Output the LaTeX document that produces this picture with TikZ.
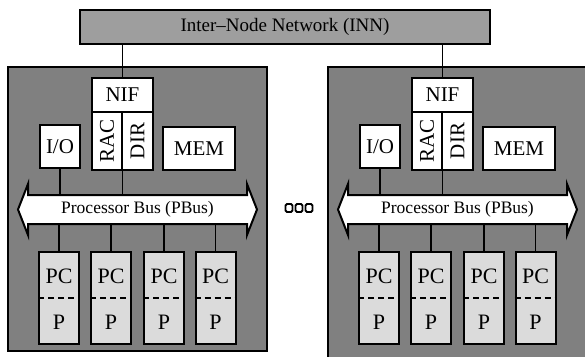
\documentclass[tikz,border=0pt]{standalone}
\usepackage{fontspec}
\setmainfont{Liberation Serif}
\usetikzlibrary{calc}
\begin{document}
\begin{tikzpicture}[x=1pt,y=-1pt,
  frame/.style={draw=black,line width=2.4pt,fill=black!50},
  wbox/.style={draw=black,line width=2pt,fill=white,inner sep=0pt,font=\fontsize{21}{23}\selectfont},
  pcbox/.style={draw=black,line width=2pt,fill=black!14,inner sep=0pt,minimum width=40pt,minimum height=92pt},
  pclbl/.style={inner sep=0pt,font=\fontsize{22}{24}\selectfont},
  conn/.style={draw=black,line width=1.8pt},
  busshape/.style={draw=black,line width=2pt,fill=white,line join=miter},
  inn/.style={draw=black,line width=2pt,fill=black!38,inner sep=0pt,minimum width=410pt,minimum height=34pt,font=\fontsize{19}{21}\selectfont},
  dotbox/.style={draw=black,line width=1.8pt,fill=white,rounded corners=1.5pt,minimum width=7pt,minimum height=8pt,inner sep=0pt}
]
\clip (0,0) rectangle (585,356);

\node[inn] (inn) at (285,27) {Inter--Node Network (INN)};

\foreach \dx/\p/\fr/\fb in {0/L/267/351,320/R/275/360}{
\begin{scope}[xshift=\dx pt, name prefix=\p-]
  \draw[frame] (8,67) rectangle (\fr,\fb);
  % bus
  \draw[busshape] (18,209.5) -- (28,184) -- (28,195) -- (247,195) -- (247,184) -- (257,209.5)
        -- (247,235) -- (247,224) -- (28,224) -- (28,235) -- cycle;
  \node[inner sep=0pt,minimum width=219pt,minimum height=29pt,font=\fontsize{17.5}{19}\selectfont] (bus) at (137.5,209.5) {Processor Bus (PBus)};
  % upper boxes
  \node[wbox,minimum width=61pt,minimum height=34pt] (nif) at (122.5,95) {NIF};
  \node[wbox,rotate=90,minimum width=58pt,minimum height=30pt] (rac) at (107,141) {RAC};
  \node[wbox,rotate=90,minimum width=58pt,minimum height=31pt] (dir) at (137.5,141) {DIR};
  \node[wbox,minimum width=40pt,minimum height=43pt] (io) at (60,146.5) {I/O};
  \node[wbox,minimum width=72pt,minimum height=43pt] (mem) at (199,148.5) {MEM};
  \draw[conn] (io.south) -- (io.south |- bus.north);
  \draw[conn] (nif.south) -- (nif.south |- bus.north);
  \draw[conn] ($(mem.south)+(6,0)$) -- ($(mem.south)+(6,0)$ |- bus.north);
  % processor boxes
  \foreach \i/\x in {1/59,2/111,3/164,4/215.5}{
    \node[pcbox] (pc\i) at (\x,298) {};
    \draw[black,line width=2pt,dash pattern=on 6pt off 4pt] (pc\i.west) -- (pc\i.east);
    \node[pclbl] (pct\i) at ($(pc\i.center)+(0,-22)$) {PC};
    \node[pclbl] (pt\i) at ($(pc\i.center)+(0,24)$) {P};
    \draw[conn] (pc\i.north) -- (pc\i.north |- bus.south);
  }
\end{scope}
}

\draw[conn] (inn.south -| L-nif.north) -- (L-nif.north);
\draw[conn] (inn.south -| R-nif.north) -- (R-nif.north);

\node[dotbox] (d1) at (289,208) {};
\node[dotbox] (d2) at (299,208) {};
\node[dotbox] (d3) at (309,208) {};
\end{tikzpicture}
\end{document}
